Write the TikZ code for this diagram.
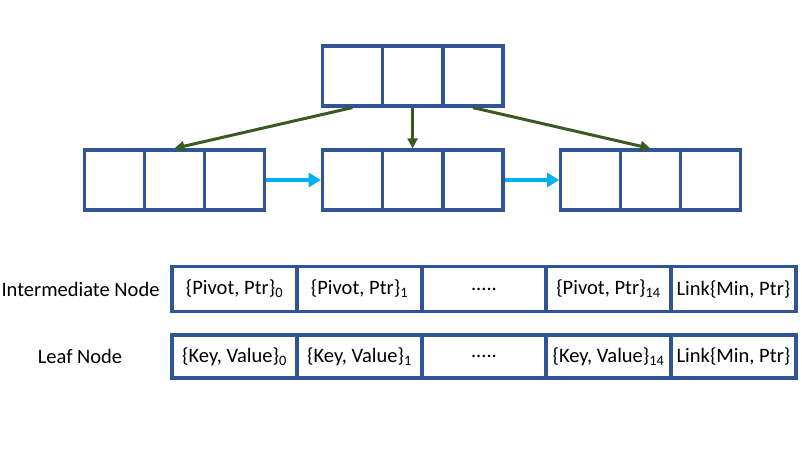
\documentclass[tikz,border=0pt]{standalone}
\usepackage{fontspec}
\setmainfont{Carlito}
\usetikzlibrary{arrows.meta}
\definecolor{boxblue}{HTML}{2F5597}
\definecolor{treegreen}{HTML}{3B5A22}
\definecolor{linkcyan}{HTML}{00B0F0}
\tikzset{
    cell/.style={draw=boxblue, line width=3.2pt, minimum width=60pt, minimum height=60pt, inner sep=0pt},
    slot/.style={draw=boxblue, line width=3.2pt, minimum width=125pt, minimum height=45pt, inner sep=0pt, font=\fontsize{20.5}{24}\selectfont},
    child/.style={draw=treegreen, line width=3pt, -{Triangle[length=10pt,width=10pt]}},
    link/.style={draw=linkcyan, line width=4pt, -{Triangle[length=12pt,width=14pt]}}
}
\begin{document}
\begin{tikzpicture}[x=1pt,y=-1pt]
        \useasboundingbox (0,0) rectangle (802,456);
        % tree nodes
        \foreach \i in {1,2,3} {
            \node[cell] (t\i) at (292+60.3*\i,76) {};
            \node[cell] (l\i) at (55+59.7*\i,180) {};
            \node[cell] (m\i) at (292+60.3*\i,180) {};
            \node[cell] (r\i) at (531+59.7*\i,180) {};
        }
        
        \draw[child] (t1.south) -- (l2.north);
        \draw[child] (t2.south) -- (m2.north);
        \draw[child] (t3.south) -- (r2.north);
        
        \draw[link] (l3.east) -- (m1.west);
        \draw[link] (m3.east) -- (r1.west);
        
        % node layouts
        \node[slot] (i1) at (234.5,289) {\{Pivot, Ptr\}\textsubscript{0}};
        \node[slot] (i2) at (359.5,289) {\{Pivot, Ptr\}\textsubscript{1}};
        \node[slot] (i3) at (484,289) {.....};
        \node[slot] (i4) at (608.5,289) {\{Pivot, Ptr\}\textsubscript{14}};
        \node[slot] (i5) at (733.5,289) {Link\{Min, Ptr\}};
        
        \node[slot, minimum height=43pt] (f1) at (234.5,356.5) {\{Key, Value\}\textsubscript{0}};
        \node[slot, minimum height=43pt] (f2) at (359.5,356.5) {\{Key, Value\}\textsubscript{1}};
        \node[slot, minimum height=43pt] (f3) at (484,356.5) {.....};
        \node[slot, minimum height=43pt] (f4) at (608.5,356.5) {\{Key, Value\}\textsubscript{14}};
        \node[slot, minimum height=43pt] (f5) at (733.5,356.5) {Link\{Min, Ptr\}};
        
        \node[anchor=east, font=\fontsize{20.5}{24}\selectfont] (lblint) at (163,289) {Intermediate Node};
        \node[font=\fontsize{20.5}{24}\selectfont] (lblleaf) at (80,356) {Leaf Node};
    \end{tikzpicture}
\end{document}
